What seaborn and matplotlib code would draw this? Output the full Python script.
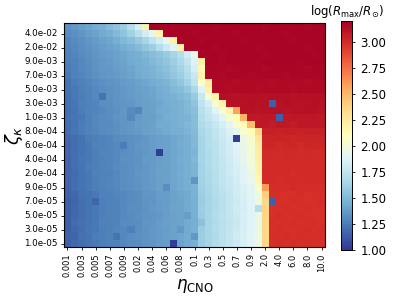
import numpy as np
import pandas as pd
import matplotlib
matplotlib.use("Agg")
import matplotlib.pyplot as plt
import seaborn as sns

# CNO efficiency (columns) and kappa parameter (rows, bottom -> top)
eta_cno = [0.001, 0.002, 0.003, 0.004, 0.005, 0.006, 0.007, 0.008, 0.009,
           0.01, 0.02, 0.03, 0.04, 0.05, 0.06, 0.07, 0.08, 0.09,
           0.1, 0.2, 0.3, 0.4, 0.5, 0.6, 0.7, 0.8, 0.9,
           1.0, 2.0, 3.0, 4.0, 5.0, 6.0, 7.0, 8.0, 9.0, 10.0]
zeta_k = [1e-5, 2e-5, 3e-5, 4e-5, 5e-5, 6e-5, 7e-5, 8e-5, 9e-5,
          1e-4, 2e-4, 3e-4, 4e-4, 5e-4, 6e-4, 7e-4, 8e-4, 9e-4,
          1e-3, 2e-3, 3e-3, 4e-3, 5e-3, 6e-3, 7e-3, 8e-3, 9e-3,
          1e-2, 2e-2, 3e-2, 4e-2, 5e-2]

# log(R_max/R_sun), one row per zeta value (zeta ascending)
log_rmax = [
    [1.15, 1.18, 1.20, 1.22, 1.24, 1.26, 1.27, 1.28, 1.30, 1.31, 1.32, 1.34, 1.35, 1.37, 1.38, 1.03, 1.41, 1.43, 1.46,
     1.60, 1.64, 1.68, 1.72, 1.76, 1.80, 1.84, 1.89, 1.96, 2.36, 2.98, 2.99, 2.98, 2.99, 2.98, 2.99, 2.98, 2.98],
    [1.16, 1.17, 1.21, 1.22, 1.25, 1.26, 1.28, 1.22, 1.30, 1.32, 1.33, 1.34, 1.36, 1.37, 1.39, 1.40, 1.42, 1.44, 1.36,
     1.61, 1.65, 1.68, 1.73, 1.77, 1.81, 1.85, 1.90, 1.97, 2.35, 2.98, 2.98, 2.99, 2.98, 2.99, 2.98, 2.98, 2.98],
    [1.15, 1.18, 1.20, 1.23, 1.24, 1.26, 1.27, 1.29, 1.30, 1.26, 1.32, 1.34, 1.36, 1.37, 1.38, 1.40, 1.36, 1.43, 1.46,
     1.60, 1.64, 1.69, 1.72, 1.76, 1.80, 1.84, 1.89, 1.96, 2.36, 2.98, 2.99, 2.98, 2.98, 2.98, 2.99, 2.98, 2.99],
    [1.14, 1.19, 1.21, 1.22, 1.24, 1.27, 1.27, 1.28, 1.31, 1.31, 1.32, 1.35, 1.35, 1.37, 1.39, 1.40, 1.41, 1.43, 1.45,
     1.54, 1.64, 1.68, 1.72, 1.75, 1.79, 1.84, 1.88, 1.96, 2.35, 2.98, 2.98, 2.98, 2.99, 2.98, 2.98, 2.99, 2.98],
    [1.15, 1.18, 1.20, 1.22, 1.24, 1.26, 1.27, 1.28, 1.30, 1.31, 1.33, 1.34, 1.35, 1.36, 1.38, 1.40, 1.41, 1.38, 1.46,
     1.60, 1.65, 1.69, 1.73, 1.76, 1.80, 1.85, 1.89, 1.95, 2.36, 2.98, 2.99, 2.98, 2.98, 2.99, 2.98, 2.98, 2.98],
    [1.15, 1.18, 1.20, 1.22, 1.24, 1.26, 1.28, 1.28, 1.30, 1.32, 1.32, 1.34, 1.36, 1.37, 1.38, 1.41, 1.41, 1.43, 1.46,
     1.61, 1.64, 1.68, 1.72, 1.77, 1.81, 1.84, 1.89, 1.70, 2.37, 2.98, 2.98, 2.99, 2.98, 2.98, 2.99, 2.98, 2.98],
    [1.14, 1.17, 1.20, 1.22, 1.17, 1.26, 1.27, 1.28, 1.30, 1.31, 1.32, 1.34, 1.35, 1.37, 1.38, 1.40, 1.41, 1.43, 1.46,
     1.60, 1.64, 1.68, 1.72, 1.76, 1.80, 1.84, 1.89, 1.97, 2.35, 1.15, 2.98, 2.98, 2.99, 2.98, 2.98, 2.98, 2.99],
    [1.16, 1.18, 1.21, 1.22, 1.24, 1.27, 1.27, 1.29, 1.30, 1.31, 1.32, 1.35, 1.35, 1.38, 1.38, 1.40, 1.42, 1.43, 1.47,
     1.61, 1.65, 1.69, 1.73, 1.77, 1.81, 1.85, 1.90, 1.98, 2.40, 2.98, 2.98, 2.98, 2.98, 2.99, 2.98, 2.98, 2.98],
    [1.17, 1.20, 1.22, 1.24, 1.26, 1.28, 1.29, 1.30, 1.32, 1.33, 1.34, 1.36, 1.37, 1.39, 1.32, 1.42, 1.43, 1.45, 1.48,
     1.62, 1.66, 1.70, 1.74, 1.78, 1.82, 1.86, 1.91, 2.04, 2.60, 2.99, 2.99, 2.99, 3.00, 2.99, 2.99, 2.99, 2.99],
    [1.17, 1.20, 1.22, 1.24, 1.26, 1.28, 1.29, 1.30, 1.32, 1.33, 1.34, 1.36, 1.37, 1.39, 1.40, 1.42, 1.43, 1.45, 1.35,
     1.63, 1.67, 1.71, 1.75, 1.79, 1.83, 1.88, 1.94, 2.15, 3.00, 3.00, 2.99, 3.00, 3.00, 2.99, 3.00, 3.00, 3.00],
    [1.18, 1.19, 1.22, 1.24, 1.27, 1.28, 1.28, 1.30, 1.32, 1.33, 1.35, 1.36, 1.37, 1.40, 1.40, 1.42, 1.44, 1.45, 1.48,
     1.63, 1.67, 1.71, 1.76, 1.80, 1.84, 1.89, 1.96, 2.17, 3.00, 3.00, 3.00, 3.00, 2.99, 3.00, 3.00, 3.00, 3.00],
    [1.17, 1.20, 1.22, 1.25, 1.26, 1.28, 1.29, 1.31, 1.32, 1.33, 1.34, 1.36, 1.37, 1.39, 1.40, 1.42, 1.43, 1.46, 1.48,
     1.63, 1.68, 1.72, 1.76, 1.80, 1.85, 1.90, 1.98, 2.19, 3.00, 3.00, 3.00, 3.00, 3.00, 3.00, 3.00, 3.00, 3.00],
    [1.17, 1.20, 1.23, 1.24, 1.26, 1.28, 1.29, 1.30, 1.33, 1.33, 1.34, 1.37, 1.37, 1.39, 1.40, 1.42, 1.44, 1.45, 1.49,
     1.64, 1.68, 1.72, 1.77, 1.81, 1.86, 1.92, 2.00, 2.21, 3.01, 3.00, 3.00, 3.01, 3.00, 3.00, 3.01, 3.00, 3.00],
    [1.18, 1.20, 1.22, 1.24, 1.26, 1.29, 1.29, 1.30, 1.32, 1.33, 1.34, 1.36, 1.37, 1.02, 1.40, 1.42, 1.43, 1.45, 1.48,
     1.64, 1.68, 1.73, 1.78, 1.82, 1.87, 1.93, 2.01, 2.22, 3.01, 3.01, 3.00, 3.01, 3.01, 3.00, 3.01, 3.01, 3.00],
    [1.17, 1.20, 1.22, 1.24, 1.27, 1.28, 1.29, 1.30, 1.25, 1.33, 1.35, 1.36, 1.37, 1.39, 1.40, 1.42, 1.44, 1.45, 1.49,
     1.64, 1.69, 1.73, 1.78, 1.83, 1.88, 1.94, 2.02, 2.23, 3.02, 3.02, 3.01, 3.02, 3.02, 3.01, 3.02, 3.02, 3.02],
    [1.18, 1.20, 1.22, 1.25, 1.26, 1.28, 1.29, 1.31, 1.32, 1.33, 1.34, 1.36, 1.38, 1.39, 1.40, 1.42, 1.43, 1.46, 1.49,
     1.65, 1.69, 1.74, 1.79, 1.84, 1.03, 1.96, 2.04, 2.27, 3.03, 3.03, 3.03, 3.03, 3.02, 3.03, 3.03, 3.03, 3.03],
    [1.20, 1.23, 1.25, 1.27, 1.29, 1.31, 1.32, 1.33, 1.35, 1.36, 1.37, 1.39, 1.40, 1.42, 1.43, 1.45, 1.46, 1.48, 1.51,
     1.66, 1.70, 1.75, 1.80, 1.86, 1.92, 2.04, 2.12, 2.36, 3.05, 3.05, 3.04, 3.05, 3.05, 3.04, 3.05, 3.05, 3.05],
    [1.20, 1.22, 1.25, 1.27, 1.30, 1.31, 1.31, 1.33, 1.35, 1.36, 1.38, 1.39, 1.40, 1.43, 1.43, 1.45, 1.47, 1.49, 1.52,
     1.68, 1.73, 1.78, 1.84, 1.92, 2.05, 2.12, 2.48, 3.08, 3.08, 3.07, 3.08, 3.08, 3.07, 3.08, 3.08, 3.08, 3.08],
    [1.21, 1.23, 1.24, 1.27, 1.30, 1.31, 1.32, 1.34, 1.35, 1.30, 1.37, 1.39, 1.39, 1.42, 1.44, 1.45, 1.47, 1.48, 1.52,
     1.70, 1.76, 1.82, 1.90, 2.05, 2.12, 2.52, 3.08, 3.08, 3.09, 3.08, 1.15, 3.08, 3.09, 3.08, 3.08, 3.09, 3.08],
    [1.20, 1.22, 1.25, 1.28, 1.29, 1.30, 1.32, 1.33, 1.36, 1.31, 1.29, 1.39, 1.40, 1.43, 1.43, 1.45, 1.47, 1.49, 1.53,
     1.72, 1.78, 1.88, 2.05, 2.18, 2.58, 3.12, 3.12, 3.11, 3.12, 3.12, 3.12, 3.11, 3.12, 3.12, 3.12, 3.12, 3.11],
    [1.21, 1.23, 1.26, 1.27, 1.29, 1.32, 1.32, 1.34, 1.35, 1.36, 1.38, 1.39, 1.40, 1.42, 1.44, 1.46, 1.47, 1.50, 1.55,
     1.74, 1.84, 2.05, 2.20, 3.12, 3.12, 3.12, 3.13, 3.12, 3.12, 1.15, 3.12, 3.13, 3.12, 3.12, 3.12, 3.13, 3.12],
    [1.21, 1.24, 1.25, 1.28, 1.30, 1.22, 1.33, 1.34, 1.36, 1.37, 1.38, 1.40, 1.41, 1.43, 1.45, 1.47, 1.49, 1.52, 1.59,
     1.78, 2.03, 2.20, 3.13, 3.13, 3.12, 3.13, 3.13, 3.13, 3.12, 3.13, 3.13, 3.13, 3.12, 3.13, 3.13, 3.13, 3.13],
    [1.22, 1.24, 1.26, 1.28, 1.30, 1.32, 1.33, 1.34, 1.36, 1.37, 1.39, 1.40, 1.42, 1.44, 1.46, 1.49, 1.52, 1.57, 1.66,
     1.88, 2.20, 3.15, 3.15, 3.14, 3.15, 3.15, 3.15, 3.14, 3.15, 3.15, 3.15, 3.15, 3.14, 3.15, 3.15, 3.15, 3.15],
    [1.22, 1.25, 1.27, 1.29, 1.31, 1.33, 1.34, 1.35, 1.37, 1.38, 1.40, 1.42, 1.44, 1.46, 1.48, 1.52, 1.57, 1.63, 1.74,
     2.08, 2.23, 3.15, 3.15, 3.15, 3.14, 3.15, 3.15, 3.15, 3.15, 3.14, 3.15, 3.15, 3.15, 3.15, 3.14, 3.15, 3.15],
    [1.24, 1.27, 1.29, 1.31, 1.33, 1.35, 1.36, 1.37, 1.39, 1.41, 1.43, 1.45, 1.47, 1.49, 1.52, 1.56, 1.61, 1.68, 1.79,
     2.18, 3.17, 3.17, 3.16, 3.17, 3.17, 3.17, 3.16, 3.17, 3.17, 3.17, 3.17, 3.16, 3.17, 3.17, 3.17, 3.17, 3.17],
    [1.25, 1.27, 1.30, 1.31, 1.34, 1.36, 1.36, 1.38, 1.40, 1.42, 1.44, 1.46, 1.48, 1.51, 1.54, 1.58, 1.63, 1.71, 1.84,
     2.14, 3.17, 3.17, 3.17, 3.16, 3.17, 3.17, 3.17, 3.17, 3.16, 3.17, 3.17, 3.17, 3.17, 3.17, 3.16, 3.17, 3.17],
    [1.26, 1.28, 1.30, 1.32, 1.34, 1.36, 1.37, 1.39, 1.41, 1.43, 1.45, 1.47, 1.50, 1.53, 1.56, 1.61, 1.67, 1.75, 1.87,
     2.20, 3.18, 3.18, 3.17, 3.18, 3.18, 3.18, 3.18, 3.17, 3.18, 3.18, 3.18, 3.18, 3.18, 3.17, 3.18, 3.18, 3.18],
    [1.27, 1.29, 1.31, 1.33, 1.35, 1.37, 1.38, 1.40, 1.42, 1.44, 1.46, 1.49, 1.52, 1.55, 1.59, 1.64, 1.71, 1.82, 1.93,
     3.18, 3.18, 3.18, 3.17, 3.18, 3.18, 3.18, 3.18, 3.18, 3.17, 3.18, 3.18, 3.18, 3.18, 3.18, 3.18, 3.17, 3.18],
    [1.28, 1.30, 1.32, 1.34, 1.36, 1.38, 1.40, 1.42, 1.45, 1.48, 1.51, 1.56, 1.61, 1.70, 1.80, 1.89, 2.20, 3.18, 3.18,
     3.18, 3.18, 3.17, 3.18, 3.18, 3.18, 3.18, 3.18, 3.17, 3.18, 3.18, 3.18, 3.18, 3.18, 3.18, 3.17, 3.18, 3.18],
    [1.29, 1.31, 1.33, 1.35, 1.37, 1.40, 1.42, 1.45, 1.49, 1.53, 1.58, 1.65, 1.74, 1.83, 1.92, 2.20, 3.18, 3.18, 3.18,
     3.17, 3.18, 3.18, 3.18, 3.18, 3.18, 3.17, 3.18, 3.18, 3.18, 3.18, 3.18, 3.18, 3.17, 3.18, 3.18, 3.18, 3.18],
    [1.31, 1.33, 1.35, 1.38, 1.40, 1.43, 1.46, 1.50, 1.55, 1.62, 1.72, 1.83, 1.92, 2.18, 3.18, 3.18, 3.18, 3.18, 3.17,
     3.18, 3.18, 3.18, 3.18, 3.18, 3.17, 3.18, 3.18, 3.18, 3.18, 3.18, 3.18, 3.17, 3.18, 3.18, 3.18, 3.18, 3.18],
    [1.33, 1.36, 1.38, 1.41, 1.44, 1.46, 1.51, 1.55, 1.60, 1.70, 1.84, 2.18, 3.18, 3.18, 3.18, 3.17, 3.18, 3.18, 3.18,
     3.18, 3.18, 3.17, 3.18, 3.18, 3.18, 3.18, 3.18, 3.18, 3.17, 3.18, 3.18, 3.18, 3.18, 3.18, 3.17, 3.18, 3.18],
]

df = pd.DataFrame(log_rmax,
                  index=[f"{z:.1e}" for z in zeta_k],
                  columns=[str(e) for e in eta_cno])

fig = plt.figure(figsize=(3.97, 2.97), dpi=100)
ax = fig.add_axes([0.161, 0.168, 0.658, 0.754])
cax = fig.add_axes([0.859, 0.157, 0.028, 0.773])

sns.heatmap(df, cmap="RdYlBu_r", vmin=1.0, vmax=3.2, ax=ax, cbar_ax=cax,
            xticklabels=2, yticklabels=2)
ax.invert_yaxis()

ax.tick_params(axis="x", labelsize=6, rotation=90, length=2.5, width=0.6, pad=2)
ax.tick_params(axis="y", labelsize=6.3, rotation=0, length=2.5, width=0.6, pad=2)
for sp in ax.spines.values():
    sp.set_visible(True)
    sp.set_linewidth(0.8)

ax.set_xlabel(r"$\eta_{\rm CNO}$", fontsize=12, labelpad=0)
ax.set_ylabel(r"$\zeta_\kappa$", fontsize=13, labelpad=-1)

cax.tick_params(labelsize=8.5, length=2.5, width=0.6)
cax.set_yticks([1.0, 1.25, 1.5, 1.75, 2.0, 2.25, 2.5, 2.75, 3.0])
cax.set_title(r"log($R_{\rm max}/R_{\odot}$)", fontsize=8.5, pad=4)
for sp in cax.spines.values():
    sp.set_visible(True)
    sp.set_linewidth(0.6)

fig.savefig("out.png", dpi=100)
